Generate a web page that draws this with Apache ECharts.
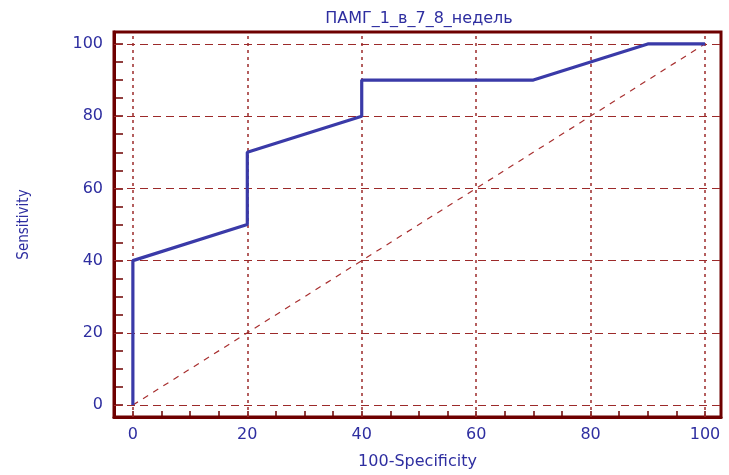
<!DOCTYPE html>
<html><head><meta charset="utf-8">
<script src="https://cdn.jsdelivr.net/npm/echarts@6/dist/echarts.min.js"></script>
<style>html,body{margin:0;padding:0;background:#fff}#c{width:729px;height:475px}</style>
</head><body><div id="c"></div>
<script>
const title = "ПАМГ_1_в_7_8_недель";
const xName = "100-Specificity";
const yName = "Sensitivity";
const rocX = [0, 0, 20, 20, 40, 40, 70, 90, 100];
const rocY = [0, 40, 50, 70, 80, 90, 90, 100, 100];
const diagX = [0, 100];
const diagY = [0, 100];
const majorTicks = [0, 20, 40, 60, 80, 100];
const minorTicks = [0,5,10,15,20,25,30,35,40,45,50,55,60,65,70,75,80,85,90,95,100];

const frame = '#6e0000';
const gridC = '#9c2a2a';
const blue = '#2e2ea0';
const font = 'DejaVu Sans';

const chart = echarts.init(document.getElementById('c'));
chart.setOption({
  animation: false,
  backgroundColor: '#fff',
  title: {text: title, left: 414, top: 6, textAlign: 'center',
    textStyle: {color: blue, fontFamily: font, fontSize: 16, fontWeight: 'normal'}},
  grid: {left: 114, right: 8, top: 32, bottom: 57, show: true, borderColor: frame, borderWidth: 3, backgroundColor: 'transparent'},
  xAxis: {type: 'value', min: -3.3, max: 102.8,
    name: xName, nameLocation: 'middle', nameGap: 37,
    nameTextStyle: {color: blue, fontFamily: font, fontSize: 16},
    axisLine: {show: true, onZero: false, lineStyle: {color: frame, width: 3}},
    axisTick: {show: true, inside: true, length: 6, customValues: minorTicks, lineStyle: {color: frame, width: 1.5}},
    axisLabel: {customValues: majorTicks, color: blue, fontFamily: font, fontSize: 16, margin: 10},
    splitLine: {show: false}},
  yAxis: {type: 'value', min: -3.3, max: 103.3,
    name: yName, nameLocation: 'middle', nameGap: 82, nameRotate: 90,
    nameTextStyle: {color: blue, fontFamily: '"DejaVu Sans Condensed", "Liberation Sans Narrow", "Liberation Sans", sans-serif', fontSize: 15},
    axisLine: {show: true, onZero: false, lineStyle: {color: frame, width: 3}},
    axisTick: {show: true, inside: true, length: 9, customValues: minorTicks, lineStyle: {color: frame, width: 1.5}},
    axisLabel: {customValues: majorTicks, color: blue, fontFamily: font, fontSize: 16, margin: 11},
    splitLine: {show: false}},
  series: [
    {type: 'line', data: [], silent: true,
      markLine: {silent: true, symbol: 'none', label: {show: false},
        data: majorTicks.map(v => ({xAxis: v, lineStyle: {color: gridC, width: 1.5, type: [3, 4]}}))
          .concat(majorTicks.map(v => ({yAxis: v, lineStyle: {color: gridC, width: 1.2, type: [8, 5]}})))}},
    {type: 'line', data: diagX.map((x, i) => [x, diagY[i]]), symbol: 'none', silent: true,
      lineStyle: {color: '#a83030', width: 1.2, type: [6, 6]}},
    {type: 'line', data: rocX.map((x, i) => [x, rocY[i]]), symbol: 'none', silent: true,
      lineStyle: {color: '#3a3aa8', width: 3.2}, z: 5}
  ]
});
</script></body></html>
